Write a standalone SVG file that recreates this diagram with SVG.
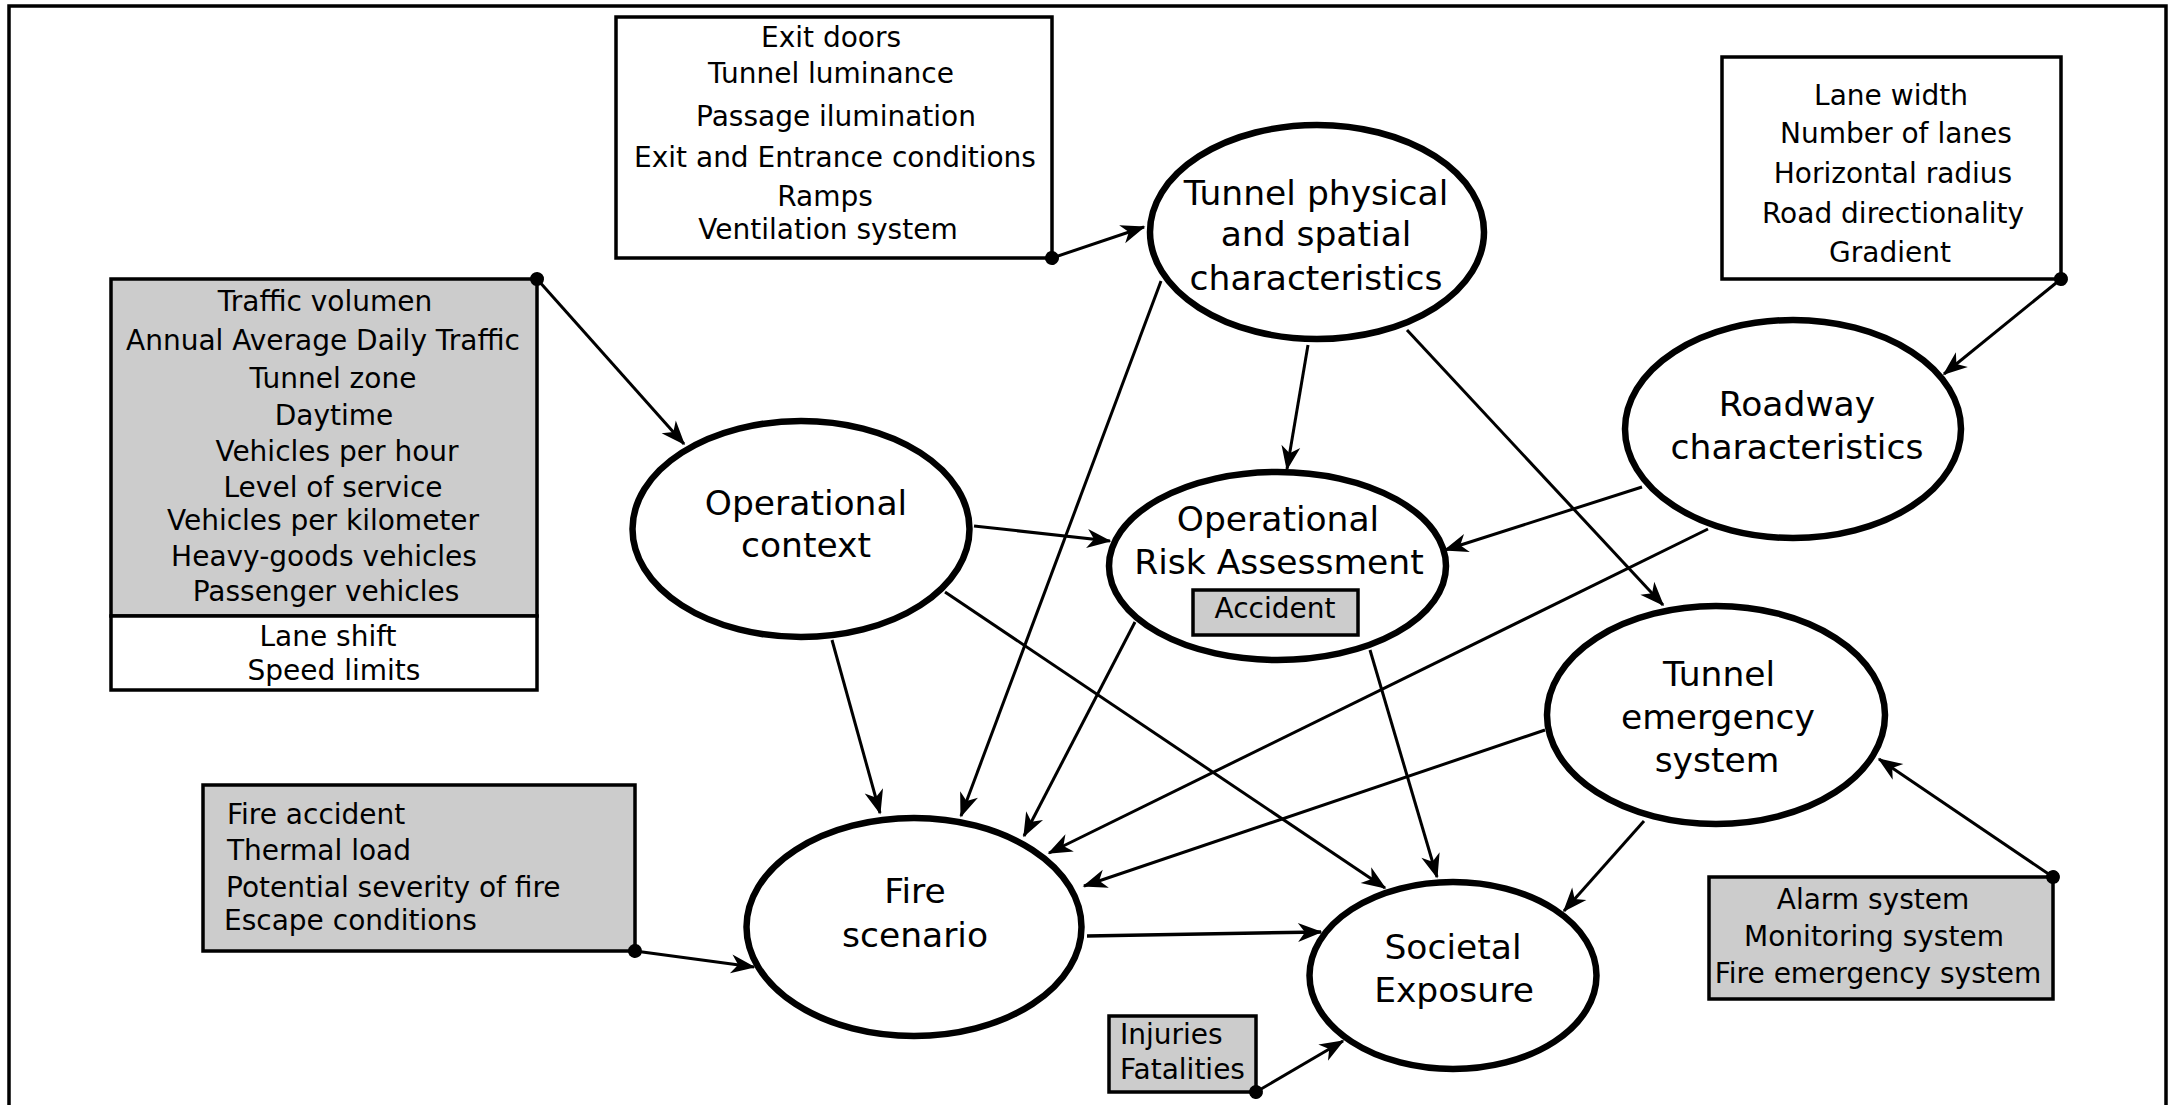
<svg xmlns="http://www.w3.org/2000/svg" width="2170" height="1105" viewBox="0 0 2170 1105">
  <style>
    text { font-family: "DejaVu Sans", "Liberation Sans", sans-serif; fill: #000; }
    .box { font-size: 28px; text-anchor: middle; }
    .left { font-size: 28px; text-anchor: start; }
    .lbl { font-size: 34.5px; text-anchor: middle; }
    .node { fill: #fff; stroke: #000; stroke-width: 6.5; }
    .white { fill: #fff; stroke: #000; stroke-width: 3.5; }
    .grey { fill: #cccccc; stroke: #000; stroke-width: 3.5; }
    .edge { fill: none; stroke: #000; stroke-width: 3; marker-end: url(#head); }
    .link { marker-start: url(#dot); }
  </style>
  <defs>
    <marker id="head" viewBox="-28 -12 32 24" markerWidth="32" markerHeight="24" refX="0" refY="0" orient="auto" markerUnits="userSpaceOnUse">
      <path d="M1.5,0 L-23,-9.5 L-16,0 L-23,9.5 Z" fill="#000"/>
    </marker>
    <marker id="dot" viewBox="-9 -9 18 18" markerWidth="18" markerHeight="18" refX="0" refY="0" orient="auto" markerUnits="userSpaceOnUse">
      <circle cx="0" cy="0" r="7" fill="#000"/>
    </marker>
  </defs>

  <rect width="2170" height="1105" fill="#fff"/>
  <!-- outer frame, open at the bottom -->
  <path d="M9,1112 V6 H2166 V1112" fill="none" stroke="#000" stroke-width="3.5"/>

  <!-- factor boxes -->
  <g id="box-tunnel-features">
    <rect class="white" x="616" y="17" width="436" height="241"/>
    <text class="box" x="831" y="47">Exit doors</text>
    <text class="box" x="831" y="83">Tunnel luminance</text>
    <text class="box" x="836" y="126">Passage ilumination</text>
    <text class="box" x="835" y="167">Exit and Entrance conditions</text>
    <text class="box" x="825" y="206">Ramps</text>
    <text class="box" x="828" y="239">Ventilation system</text>
  </g>

  <g id="box-road-features">
    <rect class="white" x="1722" y="57" width="339" height="222"/>
    <text class="box" x="1891" y="105">Lane width</text>
    <text class="box" x="1896" y="143">Number of lanes</text>
    <text class="box" x="1893" y="183">Horizontal radius</text>
    <text class="box" x="1893" y="223">Road directionality</text>
    <text class="box" x="1890" y="262">Gradient</text>
  </g>

  <g id="box-traffic">
    <rect class="grey" x="111" y="279" width="426" height="337"/>
    <rect class="white" x="111" y="616" width="426" height="74"/>
    <text class="box" x="325" y="311">Traffic volumen</text>
    <text class="box" x="323" y="350">Annual Average Daily Traffic</text>
    <text class="box" x="333" y="388">Tunnel zone</text>
    <text class="box" x="334" y="425">Daytime</text>
    <text class="box" x="337" y="461">Vehicles per hour</text>
    <text class="box" x="333" y="497">Level of service</text>
    <text class="box" x="323" y="530">Vehicles per kilometer</text>
    <text class="box" x="324" y="566">Heavy-goods vehicles</text>
    <text class="box" x="326" y="601">Passenger vehicles</text>
    <text class="box" x="328" y="646">Lane shift</text>
    <text class="box" x="334" y="680">Speed limits</text>
  </g>

  <g id="box-fire-factors">
    <rect class="grey" x="203" y="785" width="432" height="166"/>
    <text class="left" x="227" y="824">Fire accident</text>
    <text class="left" x="227" y="860">Thermal load</text>
    <text class="left" x="226" y="897">Potential severity of fire</text>
    <text class="left" x="224" y="930">Escape conditions</text>
  </g>

  <g id="box-safety-systems">
    <rect class="grey" x="1709" y="877" width="344" height="122"/>
    <text class="box" x="1873" y="909">Alarm system</text>
    <text class="box" x="1874" y="946">Monitoring system</text>
    <text class="box" x="1878" y="983">Fire emergency system</text>
  </g>

  <g id="box-consequences">
    <rect class="grey" x="1109" y="1016" width="147" height="76"/>
    <text class="left" x="1120" y="1044">Injuries</text>
    <text class="left" x="1120" y="1079">Fatalities</text>
  </g>

  <!-- network nodes -->
  <g id="node-tunnel-physical">
    <ellipse class="node" cx="1317" cy="232" rx="167" ry="107"/>
    <text class="lbl" x="1316" y="205">Tunnel physical</text>
    <text class="lbl" x="1316" y="246">and spatial</text>
    <text class="lbl" x="1316" y="290">characteristics</text>
  </g>

  <g id="node-operational-context">
    <ellipse class="node" cx="801" cy="529" rx="168.5" ry="108"/>
    <text class="lbl" x="806" y="515">Operational</text>
    <text class="lbl" x="806" y="557">context</text>
  </g>

  <g id="node-risk-assessment">
    <ellipse class="node" cx="1277.5" cy="566" rx="168.5" ry="94"/>
    <text class="lbl" x="1278" y="531">Operational</text>
    <text class="lbl" x="1279" y="574">Risk Assessment</text>
    <rect class="grey" x="1193" y="590" width="165" height="45"/>
    <text class="box" x="1275" y="618">Accident</text>
  </g>

  <g id="node-roadway">
    <ellipse class="node" cx="1793" cy="429" rx="168" ry="109"/>
    <text class="lbl" x="1797" y="416">Roadway</text>
    <text class="lbl" x="1797" y="459">characteristics</text>
  </g>

  <g id="node-emergency-system">
    <ellipse class="node" cx="1716" cy="715" rx="169" ry="109"/>
    <text class="lbl" x="1719" y="686">Tunnel</text>
    <text class="lbl" x="1718" y="729">emergency</text>
    <text class="lbl" x="1717" y="772">system</text>
  </g>

  <g id="node-fire-scenario">
    <ellipse class="node" cx="914" cy="927" rx="167.5" ry="109"/>
    <text class="lbl" x="915" y="903">Fire</text>
    <text class="lbl" x="915" y="947">scenario</text>
  </g>

  <g id="node-societal-exposure">
    <ellipse class="node" cx="1453" cy="975.5" rx="143.5" ry="93.5"/>
    <text class="lbl" x="1453" y="959">Societal</text>
    <text class="lbl" x="1454" y="1002">Exposure</text>
  </g>

  <!-- connectors -->
  <g id="connectors">
    <path class="edge link" d="M537,279 L684,444"/>
    <path class="edge link" d="M1052,258 L1144,227"/>
    <path class="edge link" d="M2061,279 L1944,374"/>
    <path class="edge link" d="M635,951 L754,967"/>
    <path class="edge link" d="M2053,877 L1879,759"/>
    <path class="edge link" d="M1256,1092 L1343,1041"/>

    <path class="edge" d="M1308,345 L1287,469"/>
    <path class="edge" d="M1161,281 L961,816"/>
    <path class="edge" d="M1407,330 L1663,605"/>
    <path class="edge" d="M974,526 L1110,541"/>
    <path class="edge" d="M832,640 L880,813"/>
    <path class="edge" d="M945,592 L1385,888"/>
    <path class="edge" d="M1135,622 L1024,836"/>
    <path class="edge" d="M1370,650 L1437,877"/>
    <path class="edge" d="M1642,487 L1445,550"/>
    <path class="edge" d="M1708,529 L1049,853"/>
    <path class="edge" d="M1545,730 L1084,886"/>
    <path class="edge" d="M1644,821 L1564,911"/>
    <path class="edge" d="M1087,936 L1321,932" style="stroke-width:3.5"/>
  </g>
</svg>
